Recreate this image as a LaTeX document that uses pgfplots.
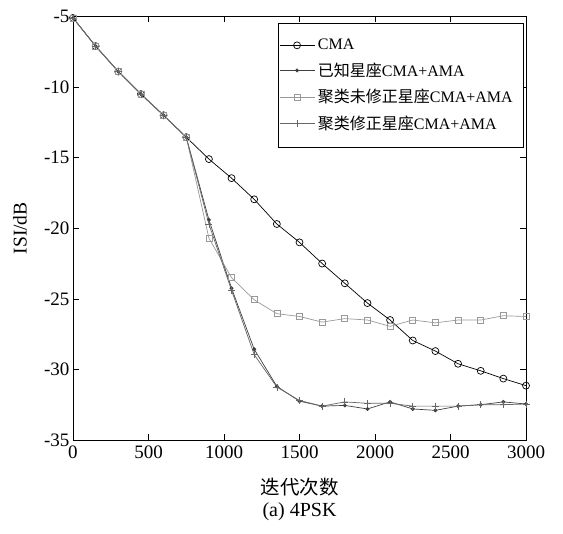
\documentclass[border=0pt]{standalone}
\usepackage{pgfplots}
\pgfplotsset{compat=1.18}
\usepackage{fontspec}
\setmainfont{Liberation Serif}
\newfontfamily\cjk{Noto Sans CJK SC}
\definecolor{cdot}{gray}{0.25}
\definecolor{csq}{gray}{0.6}
\definecolor{cplus}{gray}{0.4}
\begin{document}
\begin{tikzpicture}
\begin{axis}[
  name=ax,
  scale only axis,
  width=453pt, height=423.5pt,
  xmin=0, xmax=3000, ymin=-35, ymax=-5,
  xtick={0,500,...,3000}, ytick={-35,-30,...,-5},
  tick align=inside, major tick length=6pt,
  axis line style={line width=0.8pt},
  every tick/.style={black, line width=0.6pt},
  /pgf/number format/assume math mode=true,
  /pgf/number format/1000 sep={},
  tick label style={font=\fontsize{19}{22}\selectfont},
  xticklabel style={yshift=-2pt},
  xlabel={\cjk 迭代次数},
  ylabel={ISI/dB},
  label style={font=\fontsize{19.5}{22}\selectfont},
  xlabel style={at={(axis description cs:0.5,0)},anchor=center,yshift=-47pt},
  ylabel style={at={([xshift=-53pt]axis description cs:0,0.5)},anchor=center},
  legend style={at={(rel axis cs:1,1)}, anchor=north east, xshift=-2pt, yshift=-6.5pt,
    font=\fontsize{16}{18}\selectfont, draw=black, line width=0.6pt, row sep=7.5pt,
    inner xsep=1pt, inner ysep=14pt, nodes={inner xsep=3pt}},
  legend cell align=left,
  legend image code/.code={\draw[mark repeat=2,mark phase=2,#1] plot coordinates {(0pt,0pt)(17.5pt,0pt)(35pt,0pt)};},
]
\addplot[black, line width=0.7pt, mark=o, mark size=3.5pt, mark options={line width=0.7pt}] coordinates {
(0,-5.1)(150,-7.1)(300,-8.9)(450,-10.5)(600,-12.0)(750,-13.55)(900,-15.1)(1050,-16.45)(1200,-17.95)(1350,-19.7)(1500,-21.0)(1650,-22.5)(1800,-23.9)(1950,-25.3)(2100,-26.5)(2250,-27.95)(2400,-28.7)(2550,-29.6)(2700,-30.1)(2850,-30.65)(3000,-31.15)};
\addlegendentry{CMA\hspace*{7pt}}
\addplot[cdot, line width=0.7pt, mark=*, mark size=1.6pt] coordinates {
(0,-5.1)(150,-7.1)(300,-8.9)(450,-10.5)(600,-12.0)(750,-13.55)(900,-19.4)(1050,-24.25)(1200,-28.57)(1350,-31.2)(1500,-32.25)(1650,-32.6)(1800,-32.55)(1950,-32.8)(2100,-32.3)(2250,-32.8)(2400,-32.9)(2550,-32.6)(2700,-32.5)(2850,-32.3)(3000,-32.45)};
\addlegendentry{{\cjk 已知星座}CMA+AMA\hspace*{7pt}}
\addplot[csq, line width=0.7pt, mark=square, mark size=3pt, mark options={line width=0.7pt}] coordinates {
(0,-5.1)(150,-7.1)(300,-8.9)(450,-10.5)(600,-12.0)(750,-13.55)(900,-20.7)(1050,-23.5)(1200,-25.07)(1350,-26.05)(1500,-26.25)(1650,-26.65)(1800,-26.4)(1950,-26.5)(2100,-26.95)(2250,-26.5)(2400,-26.7)(2550,-26.5)(2700,-26.5)(2850,-26.2)(3000,-26.25)};
\addlegendentry{{\cjk 聚类未修正星座}CMA+AMA\hspace*{7pt}}
\addplot[cplus, line width=0.7pt, mark=+, mark size=3.5pt, mark options={line width=0.7pt}] coordinates {
(0,-5.1)(150,-7.1)(300,-8.9)(450,-10.5)(600,-12.0)(750,-13.55)(900,-19.7)(1050,-24.4)(1200,-28.95)(1350,-31.25)(1500,-32.2)(1650,-32.6)(1800,-32.3)(1950,-32.4)(2100,-32.4)(2250,-32.6)(2400,-32.6)(2550,-32.6)(2700,-32.5)(2850,-32.5)(3000,-32.45)};
\addlegendentry{{\cjk 聚类修正星座}CMA+AMA\hspace*{7pt}}
\end{axis}
\node[font=\fontsize{20}{22}\selectfont, anchor=center] at ([yshift=-72pt]ax.south) {(a) 4PSK};
\path ([xshift=-73pt,yshift=-93pt]ax.south west) rectangle ([xshift=37pt,yshift=16.5pt]ax.north east);
\end{tikzpicture}
\end{document}
